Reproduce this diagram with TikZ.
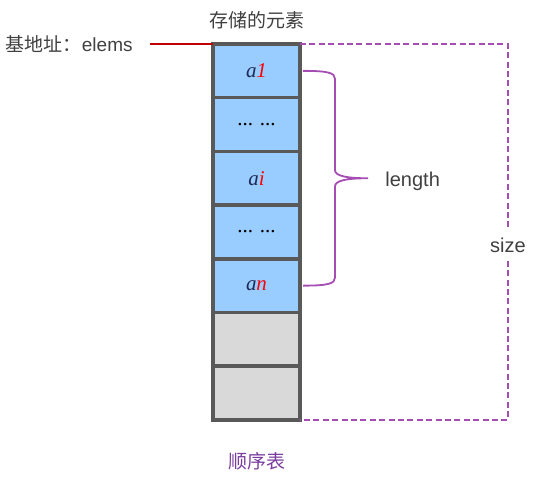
\documentclass[tikz,border=0pt]{standalone}
\usepackage{fontspec}
\setmainfont{Liberation Sans}
\newfontfamily\serifit{Liberation Serif}
\newfontfamily\cjk{Noto Sans CJK SC}
\usetikzlibrary{
  positioning,
  calc
}
\definecolor{cellblue}{HTML}{99CCFF}
\definecolor{cellgray}{HTML}{D9D9D9}
\definecolor{cellborder}{HTML}{595959}
\definecolor{sizeviolet}{HTML}{A64DB4}
\definecolor{titleviolet}{HTML}{7A3C9E}
\definecolor{labelgray}{HTML}{404040}
\definecolor{addrred}{HTML}{C00000}
\definecolor{elemnavy}{HTML}{1F2A55}
\tikzstyle{cell}=[draw=cellborder, line width=1.75pt, minimum width=43.5pt, minimum height=26.85pt, inner sep=0pt, outer sep=0pt, font=\fontsize{10.5}{12}\selectfont]
\tikzstyle{used}=[cell, fill=cellblue]
\tikzstyle{free}=[cell, fill=cellgray]
\tikzstyle{txt}=[text=labelgray, inner sep=1pt, font=\fontsize{9.5}{11}\selectfont]
\tikzstyle{addrline}=[addrred, line width=1pt]
\tikzstyle{brace}=[sizeviolet, line width=0.9pt]
\tikzstyle{sizeline}=[sizeviolet, line width=1pt, dash pattern=on 3pt off 1.7pt]
\newcommand{\elem}[1]{{\serifit\itshape\textcolor{elemnavy}{a}\textcolor{red}{#1}}}

\begin{document}
\begin{tikzpicture}[x=0.5pt, y=-0.5pt]
    \useasboundingbox (0,0) rectangle (542,483);

    % 顺序表的格子
    \foreach \i/\s/\t in {1/used/{\elem{1}}, 2/used/{\serifit ... ...}, 3/used/{\elem{i}},
                           4/used/{\serifit ... ...}, 5/used/{\elem{n}}, 6/free/{}, 7/free/{}}
        \node[\s] (c\i) at (256.5, {70.85+53.7*(\i-1)}) {\t};

    % 上下的标题
    \node[txt, above=6.5pt of c1] (elems) {\cjk 存储的元素};
    \node[txt, below=15pt of c7, text=titleviolet] (title) {\cjk 顺序表};

    % 基地址
    \node[txt, anchor=east] (base) at (135,44) {{\cjk 基地址：}elems};
    \draw[addrline] ([xshift=7.5pt]base.east) -- (c1.north west);

    % length 的括号
    \coordinate (b1) at ([xshift=1.5pt]c1.east);
    \coordinate (b2) at ([xshift=1.5pt]c5.east);
    \coordinate (tip) at ($(b1)!0.5!(b2)+(65,0)$);
    \draw[brace] (b1) .. controls +(25,0) and +(0,-6) .. +(32,8)
        -- ($(tip)+(-33,-8)$) .. controls +(0,6) and +(-20,0) .. (tip)
        .. controls +(-20,0) and +(0,-6) .. ($(tip)+(-33,8)$)
        -- ($(b2)+(32,-8)$) .. controls +(0,6) and +(25,0) .. (b2);
    \node[txt, right=7.5pt of tip, yshift=-1.5pt, font=\fontsize{10}{12}\selectfont] (len) {length};

    % size 的虚线框
    \node[txt, inner sep=4pt, font=\fontsize{10}{12}\selectfont] (size) at (508,245) {size};
    \draw[sizeline] (c1.north east) -| (size.north);
    \draw[sizeline] (size.south) |- (c7.south east);
\end{tikzpicture}
\end{document}
